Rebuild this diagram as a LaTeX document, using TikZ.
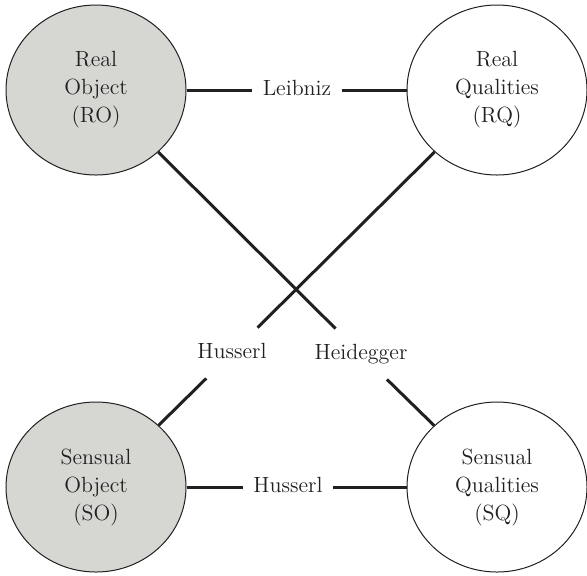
\documentclass[tikz,border=0pt]{standalone}
\usepackage{xcolor}
\usepackage{tikz}
\usetikzlibrary{shapes.geometric}
\definecolor{objgray}{RGB}{214, 214, 211}
\definecolor{inkblack}{RGB}{32, 32, 32}

\begin{document}
\begin{tikzpicture}[x=0.5pt, y=-0.5pt, font=\fontsize{11}{14}\selectfont, text=inkblack,
	blob/.style={ellipse, draw=inkblack, line width=0.5pt, minimum width=90pt, minimum height=85pt, inner sep=0pt, align=center},
	link/.style={draw=inkblack, line width=1.5pt},
	flatlabel/.style={inner xsep=5pt, text height=7.5pt, text depth=2pt},
	slantlabel/.style={inner xsep=5pt, inner ysep=7.75pt, text height=7.5pt, text depth=2pt}]
					\useasboundingbox (0,0) rectangle (587,575);
					% the four poles
					\node[blob, fill=objgray] (RO) at (96,90) {Real\\Object\\(RO)};
					\node[blob, fill=white] (RQ) at (497,90) {Real\\Qualities\\(RQ)};
					\node[blob, fill=objgray] (SO) at (96,487) {Sensual\\Object\\(SO)};
					\node[blob, fill=white] (SQ) at (497,487) {Sensual\\Qualities\\(SQ)};
					
					% labels on the ties
					\node[flatlabel] (leibniz) at (297,90) {Leibniz};
					\node[flatlabel] (husserlS) at (288,487) {Husserl};
					\node[slantlabel] (husserlX) at (232,353) {Husserl};
					\node[slantlabel] (heidegger) at (361,354) {Heidegger};
					
					\draw[link] (RO) -- (leibniz);
					\draw[link] (leibniz) -- (RQ);
					\draw[link] (SO) -- (husserlS);
					\draw[link] (husserlS) -- (SQ);
					\draw[link] (RO) -- (heidegger);
					\draw[link] (heidegger) -- (SQ);
					\draw[link] (RQ) -- (husserlX);
					\draw[link] (husserlX) -- (SO);
				\end{tikzpicture}
\end{document}
